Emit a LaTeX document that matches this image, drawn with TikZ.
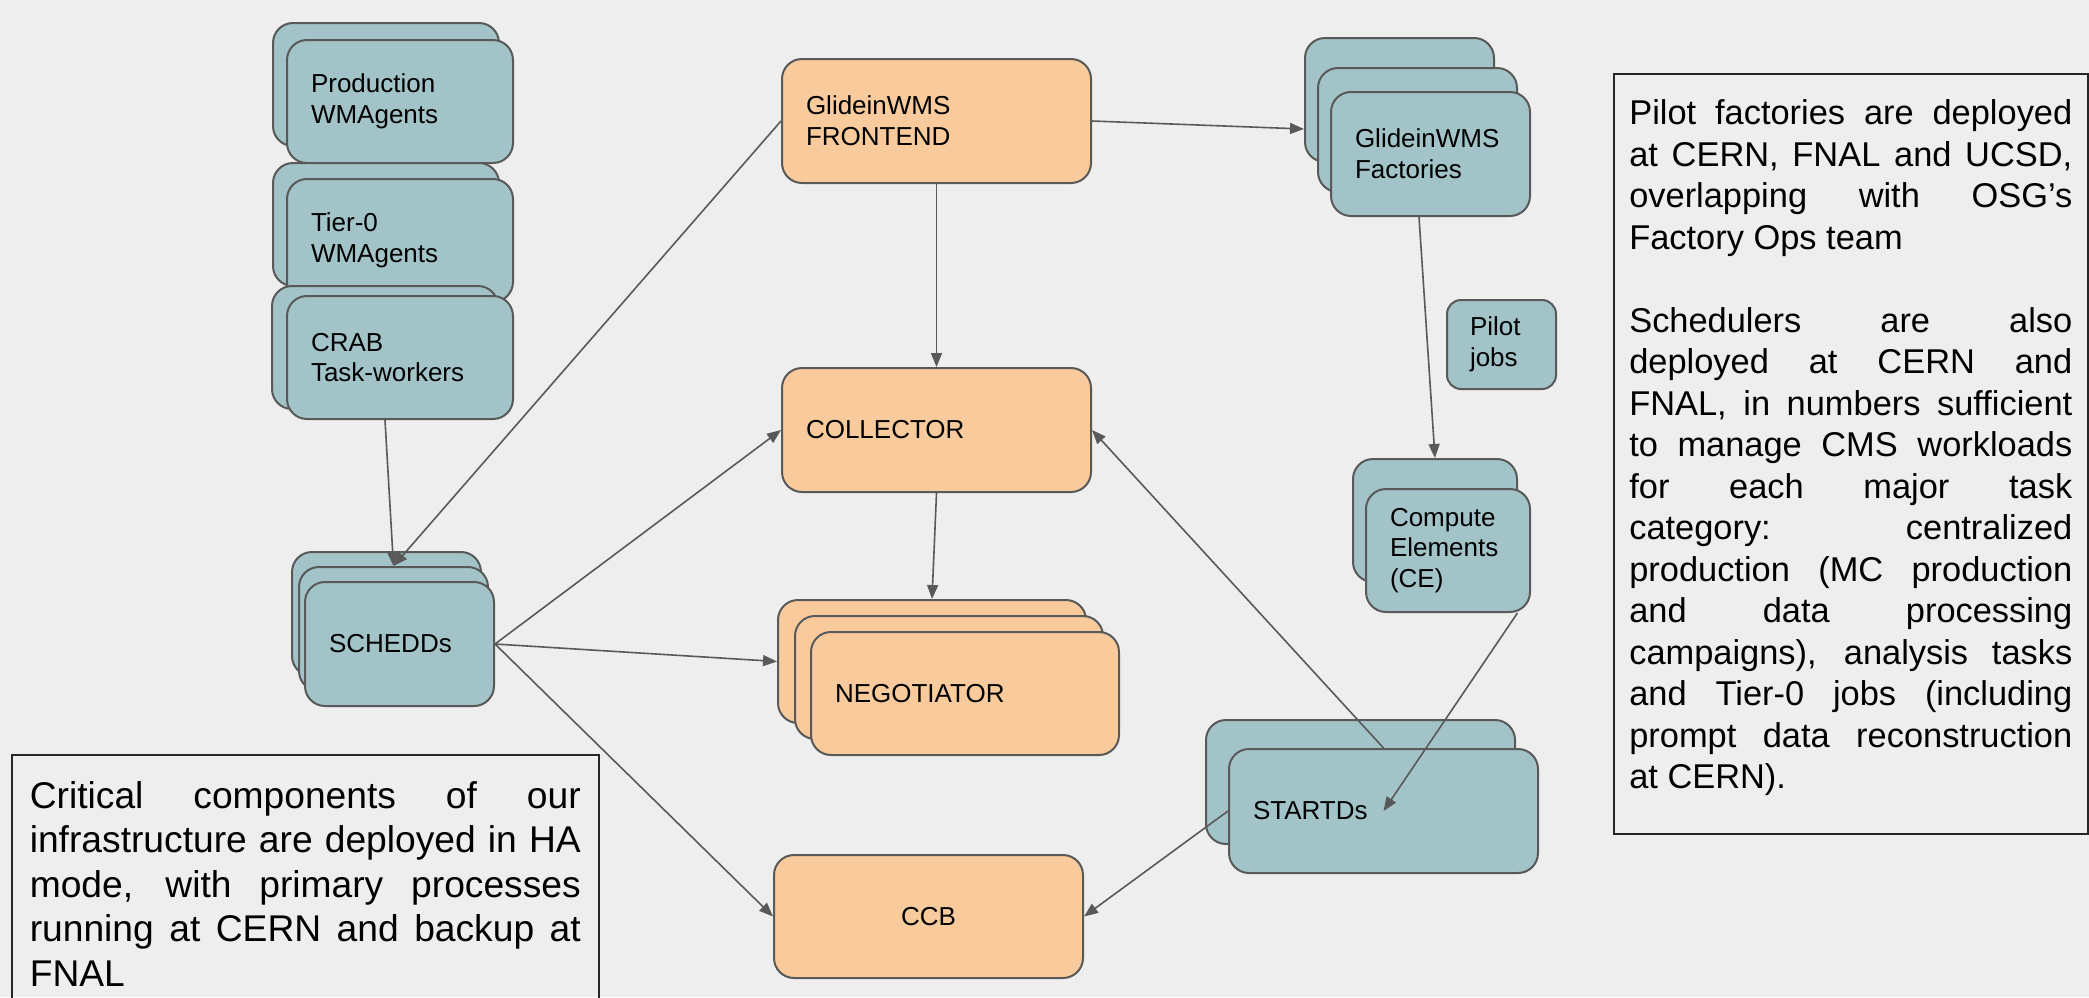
\documentclass[tikz,border=0pt]{standalone}
\usepackage{fontspec}
\setsansfont{Liberation Sans}
\usetikzlibrary{arrows.meta}

\definecolor{bg}{HTML}{EEEEEE}
\definecolor{cyanfill}{HTML}{A2C4C9}
\definecolor{orangefill}{HTML}{F9CB9C}
\definecolor{edge}{HTML}{595959}

\newcommand\blkfont{\sffamily\fontsize{13}{15.35}\selectfont}
\newcommand\rnotefont{\sffamily\fontsize{17.2}{20.75}\selectfont\tolerance=10000 \hyphenpenalty=10000 }
\newcommand\lnotefont{\sffamily\fontsize{18.6}{22.25}\selectfont\tolerance=10000 \hyphenpenalty=10000 }

\begin{document}
\begin{tikzpicture}[
  x=0.5pt, y=-0.5pt, font=\sffamily,
  blk/.style     ={rounded corners=10pt, draw=edge, line width=1pt, font=\blkfont, align=left, inner xsep=12pt, inner ysep=0pt},
  tealbox/.style ={blk, fill=cyanfill},
  peachbox/.style={blk, fill=orangefill},
  sz/.style 2 args={text width=#1, minimum height=#2},
  note/.style    ={draw=black!85, line width=0.8pt, align=justify, anchor=north west},
  flow/.style    ={-{Triangle[length=7pt,width=5.5pt]}, line width=0.8pt, draw=edge},
]

\path[use as bounding box, fill=bg] (0,0) rectangle (2089,997);

% ---------- WMAgents and CRAB ----------
\node[tealbox, sz={89pt}{61.5pt}] (prod-b)  at (386,84.5)  {};
\node[tealbox, sz={89pt}{61.5pt}] (prod)    at (400,101.5) {Production\\WMAgents};
\node[tealbox, sz={89pt}{61.5pt}] (tier0-b) at (386,224.5) {};
\node[tealbox, sz={89pt}{61.5pt}] (tier0)   at (400,240.5) {Tier-0\\WMAgents};
\node[tealbox, sz={89pt}{61.5pt}] (crab-b)  at (385,347.5) {};
\node[tealbox, sz={89pt}{61.5pt}] (crab)    at (400,357.5) {CRAB\\Task-workers};

% ---------- schedds ----------
\node[tealbox, sz={70.5pt}{62pt}] (sched-b1) at (386.5,614) {};
\node[tealbox, sz={70.5pt}{62pt}] (sched-b2) at (393.5,629) {};
\node[tealbox, sz={70.5pt}{62pt}] (sched)    at (399.5,644) {SCHEDDs};

% ---------- central manager ----------
\node[peachbox, sz={130.5pt}{62pt}]   (frontend)  at (936.5,121)   {GlideinWMS\\FRONTEND};
\node[peachbox, sz={130.5pt}{62pt}]   (collector) at (936.5,430)   {COLLECTOR};
\node[peachbox, sz={130pt}{61.5pt}]   (neg-b1)    at (932,661.5)   {};
\node[peachbox, sz={130pt}{61.5pt}]   (neg-b2)    at (949,677.5)   {};
\node[peachbox, sz={130pt}{61.5pt}]   (neg)       at (965,693.5)   {NEGOTIATOR};
\node[peachbox, sz={130.5pt}{61.5pt}, align=center] (ccb) at (928.5,916.5) {CCB};

% ---------- factories and resources ----------
\node[tealbox, sz={70.5pt}{62pt}] (fac-b1) at (1399.5,100) {};
\node[tealbox, sz={75.5pt}{62pt}] (fac-b2) at (1417.5,130) {};
\node[tealbox, sz={75.5pt}{62pt}] (fac)    at (1430.5,154) {GlideinWMS\\Factories};
\node[tealbox, sz={31.5pt}{44.5pt}, rounded corners=7pt, inner xsep=11.5pt] (pilot) at (1501.5,344.5) {Pilot\\jobs};
\node[tealbox, sz={58pt}{61.5pt}]   (ce-b)     at (1435,520.5)  {};
\node[tealbox, sz={58pt}{61.5pt}]   (ce)       at (1448,550.5)  {Compute\\Elements\\(CE)};
\node[tealbox, sz={130.5pt}{62pt}]  (startd-b) at (1360.5,782)  {};
\node[tealbox, sz={130.5pt}{62pt}]  (startd)   at (1383.5,811)  {STARTDs};

% ---------- notes ----------
\node[note, text width=221.5pt, inner xsep=7.75pt, inner ysep=13pt, font=\rnotefont] (rnote) at (1613,73)
  {Pilot factories are deployed\linebreak at CERN, FNAL and UCSD,\linebreak overlapping with OSG’s\linebreak Factory Ops team\par\vspace{20.75pt}
   Schedulers are also\linebreak deployed at CERN and\linebreak FNAL, in numbers sufficient\linebreak to manage CMS workloads\linebreak for each major task\linebreak category: centralized\linebreak production (MC production\linebreak and data processing\linebreak campaigns), analysis tasks\linebreak and Tier-0 jobs (including\linebreak prompt data reconstruction\linebreak at CERN).\par\vspace{6.2pt}\hrule height 0pt};
\node[note, text width=275.5pt, inner xsep=9pt, inner ysep=13.3pt, font=\lnotefont] (lnote) at (11,754)
  {Critical components of our\linebreak infrastructure are deployed in HA\linebreak mode, with primary processes\linebreak running at CERN and backup at\linebreak FNAL};

% ---------- flows ----------
\draw[flow] (frontend.east) -- ([yshift=-14.5pt]fac-b1.west);
\draw[flow] (frontend.south) -- (collector.north);
\draw[flow] (frontend.west) -- (sched-b2.north);
\draw[flow] ([xshift=-7.5pt]crab.south) -- (sched-b2.north);
\draw[flow] (collector.south) -- (neg-b1.north);
\draw[flow] (sched.east) -- (collector.west);
\draw[flow] (sched.east) -- (neg-b1.west);
\draw[flow] (sched.east) -- (ccb.west);
\draw[flow] ([xshift=-5.75pt]fac.south) -- (ce-b.north);
\draw[flow] (ce.-42) -- (startd.center);
\draw[flow] (startd.north) -- (collector.east);
\draw[flow] (startd.west) -- (ccb.east);

\end{tikzpicture}
\end{document}
